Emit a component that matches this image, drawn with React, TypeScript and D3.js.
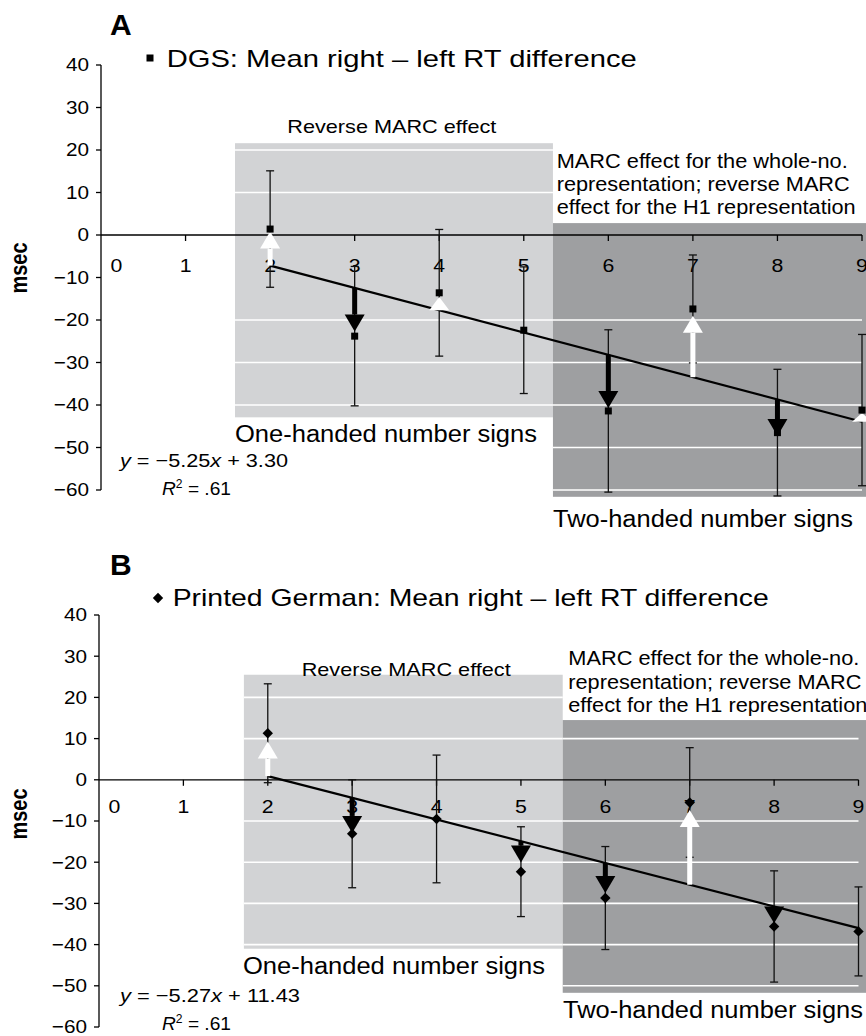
import React from 'react';
import * as d3 from 'd3';

// category positions (number of sign / digit)
const numbers = [2, 3, 4, 5, 6, 7, 8, 9];
const xTickValues = [0, 1, 2, 3, 4, 5, 6, 7, 8, 9];
const yTickValues = [40, 30, 20, 10, 0, -10, -20, -30, -40, -50, -60];

// panel A: DGS
const dgsMean = [1.4, -23.8, -13.6, -22.4, -41.4, -17.4, -46.5, -41.2];
const dgsError = [13.7, 16.4, 14.9, 14.9, 19.1, 12.7, 14.9, 17.8];
const dgsArrowTip = [0.8, -22.7, -14.6, null, -40.7, -19.0, -47.3, -41.9];
const dgsFit = { slope: -5.25, intercept: 3.3 };
const dgsGridLight = [20, 10, -20, -30, -40];
const dgsGridDark = [-20, -30, -40, -50, -60];

// panel B: printed German
const germanMean = [11.3, -13.1, -9.5, -22.3, -28.7, -5.5, -35.6, -36.8];
const germanError = [12.0, 13.1, 15.5, 10.9, 12.5, 13.3, 13.5, 10.8];
const germanArrowTip = [9.3, -12.9, null, -20.1, -27.5, -7.3, -34.8, null];
const germanFit = { slope: -5.27, intercept: 11.43 };
const germanGridLight = [20, 10, -10, -20, -30, -40];
const germanGridDark = [10, -10, -20, -30, -40, -50];

const FONT = '"Liberation Sans", Arial, Helvetica, sans-serif';
const LIGHT = '#d2d3d5';
const DARK = '#9e9fa1';

const panels = [
  {
    letter: 'A', letterY: 35,
    marker: 'square', legend: 'DGS: Mean right \u2013 left RT difference',
    legendX: 166.7, legendY: 67, legendLen: 470, markerX: 150, markerY: 58,
    mean: dgsMean, error: dgsError, arrowTip: dgsArrowTip, fit: dgsFit,
    gridLight: dgsGridLight, gridDark: dgsGridDark,
    xRange: [101, 862], yRange: [490, 65], labelOffset: 36.7,
    light: { x0: 1.585, x1: 5.345, y0: 21.6, y1: -42.9 },
    dark: { x0: 5.345, y0: 2.8, y1: -61.6 },
    reverseX: 287.3, reverseY: 133,
    marcX: 556.7, marcY: [168, 191, 214],
    oneX: 235, oneY: 442, twoX: 553, twoY: 527,
    eq: ['\u22125.25', ' + 3.30'], eqY: 467, eqLen: 168, r2Y: 495, msecY: 268,
  },
  {
    letter: 'B', letterY: 575,
    marker: 'diamond', legend: 'Printed German: Mean right \u2013 left RT difference',
    legendX: 172.7, legendY: 606, legendLen: 596, markerX: 158, markerY: 598,
    mean: germanMean, error: germanError, arrowTip: germanArrowTip, fit: germanFit,
    gridLight: germanGridLight, gridDark: germanGridDark,
    xRange: [99, 858.5], yRange: [1027, 615], labelOffset: 33.5,
    light: { x0: 1.717, x1: 5.495, y0: 25.5, y1: -41.0 },
    dark: { x0: 5.495, y0: 14.5, y1: -51.7 },
    reverseX: 301.7, reverseY: 676,
    marcX: 568.3, marcY: [665, 689, 712],
    oneX: 243, oneY: 974, twoX: 563, twoY: 1018,
    eq: ['\u22125.27', ' + 11.43'], eqY: 1002, eqLen: 180, r2Y: 1030, msecY: 814,
  },
];

function Marker({ type, cx, cy }) {
  if (type === 'square') {
    return <rect x={cx - 3.5} y={cy - 3.5} width={7} height={7} fill="#000" />;
  }
  const r = 5.2;
  return <polygon points={`${cx},${cy - r} ${cx + r},${cy} ${cx},${cy + r} ${cx - r},${cy}`} fill="#000" />;
}

function Arrow({ cx, from, to }) {
  const dir = to < from ? -1 : 1; // pixel direction of travel
  const headLen = 17;
  const headW = 20;
  const color = dir < 0 ? '#fff' : '#000';
  let base = to - dir * headLen;
  if ((base - from) * dir < 0) base = from;
  const shaftTop = Math.min(from, base);
  const shaftH = Math.abs(base - from);
  return (
    <g>
      {shaftH > 0 && <rect x={cx - 2.5} y={shaftTop} width={5} height={shaftH} fill={color} />}
      <polygon points={`${cx - headW / 2},${base} ${cx + headW / 2},${base} ${cx},${to}`} fill={color} />
    </g>
  );
}

function Panel({ p }) {
  const x = d3.scaleLinear().domain([0, 9]).range(p.xRange);
  const y = d3.scaleLinear().domain([-60, 40]).range(p.yRange);
  const fitLine = d3.line().x((d) => x(d)).y((d) => y(p.fit.slope * d + p.fit.intercept));
  const axisX = x(0);
  const axisY = y(0);

  return (
    <g fontFamily={FONT}>
      {/* shaded regions */}
      <rect x={x(p.light.x0)} y={y(p.light.y0)} width={x(p.light.x1) - x(p.light.x0)}
        height={y(p.light.y1) - y(p.light.y0)} fill={LIGHT} />
      <rect x={x(p.dark.x0)} y={y(p.dark.y0)} width={866 - x(p.dark.x0)}
        height={y(p.dark.y1) - y(p.dark.y0)} fill={DARK} />
      {p.gridLight.map((v) => (
        <line key={'l' + v} x1={x(p.light.x0)} x2={x(p.light.x1)} y1={y(v)} y2={y(v)} stroke="#fff" strokeWidth={1.6} />
      ))}
      {p.gridDark.map((v) => (
        <line key={'d' + v} x1={x(p.dark.x0)} x2={x(9)} y1={y(v)} y2={y(v)} stroke="#fff" strokeWidth={1.6} />
      ))}

      {/* axes */}
      <line x1={axisX} x2={axisX} y1={y(40)} y2={y(-60)} stroke="#000" strokeWidth={1.3} />
      <line x1={axisX} x2={x(9)} y1={axisY} y2={axisY} stroke="#000" strokeWidth={1.3} />
      {yTickValues.map((v) => (
        <g key={'yt' + v}>
          <line x1={axisX - 5} x2={axisX} y1={y(v)} y2={y(v)} stroke="#000" strokeWidth={1.3} />
          <text transform={`translate(${axisX - 12},${y(v) + 6.3}) scale(1.12,1)`} textAnchor="end" fontSize={18.5}>
            {v < 0 ? '\u2212' + Math.abs(v) : v}
          </text>
        </g>
      ))}
      {xTickValues.map((v) => (
        <g key={'xt' + v}>
          {v > 0 && <line x1={x(v)} x2={x(v)} y1={axisY} y2={axisY + 6} stroke="#000" strokeWidth={1.3} />}
          <text transform={`translate(${x(v) + (v === 0 ? 15.5 : 0)},${axisY + p.labelOffset}) scale(1.12,1)`}
            textAnchor="middle" fontSize={19}>{v}</text>
        </g>
      ))}

      {/* error bars */}
      {numbers.map((n, i) => (
        <g key={'e' + n} stroke="#111" strokeWidth={1.3}>
          <line x1={x(n)} x2={x(n)} y1={y(p.mean[i] + p.error[i])} y2={y(p.mean[i] - p.error[i])} />
          <line x1={x(n) - 4} x2={x(n) + 4} y1={y(p.mean[i] + p.error[i])} y2={y(p.mean[i] + p.error[i])} />
          <line x1={x(n) - 4} x2={x(n) + 4} y1={y(p.mean[i] - p.error[i])} y2={y(p.mean[i] - p.error[i])} />
        </g>
      ))}

      {/* regression line */}
      <path d={fitLine([2, 9])} fill="none" stroke="#000" strokeWidth={2.2} />

      {/* arrows from fitted value toward the observed shift */}
      {numbers.map((n, i) => p.arrowTip[i] == null ? null : (
        <Arrow key={'a' + n} cx={x(n)} from={y(p.fit.slope * n + p.fit.intercept)} to={y(p.arrowTip[i])} />
      ))}

      {numbers.map((n, i) => (
        <Marker key={'m' + n} type={p.marker} cx={x(n)} cy={y(p.mean[i])} />
      ))}

      {/* labels */}
      <text x={110} y={p.letterY} fontSize={30} fontWeight="bold">{p.letter}</text>
      <Marker type={p.marker} cx={p.markerX} cy={p.markerY} />
      <text x={p.legendX} y={p.legendY} fontSize={24} textLength={p.legendLen} lengthAdjust="spacingAndGlyphs">{p.legend}</text>
      <text x={p.reverseX} y={p.reverseY} fontSize={19} textLength={209} lengthAdjust="spacingAndGlyphs">Reverse MARC effect</text>
      {['MARC effect for the whole-no.', 'representation; reverse MARC', 'effect for the H1 representation'].map((t, i) => (
        <text key={t} x={p.marcX} y={p.marcY[i]} fontSize={20} textLength={[291, 293, 299][i]} lengthAdjust="spacingAndGlyphs">{t}</text>
      ))}
      <text x={p.oneX} y={p.oneY} fontSize={23} textLength={302} lengthAdjust="spacingAndGlyphs">One-handed number signs</text>
      <text x={p.twoX} y={p.twoY} fontSize={23} textLength={300} lengthAdjust="spacingAndGlyphs">Two-handed number signs</text>
      <text x={120} y={p.eqY} fontSize={19} textLength={p.eqLen} lengthAdjust="spacingAndGlyphs">
        <tspan fontStyle="italic">y</tspan> = {p.eq[0]}<tspan fontStyle="italic">x</tspan>{p.eq[1]}
      </text>
      <text x={162} y={p.r2Y} fontSize={19} textLength={69} lengthAdjust="spacingAndGlyphs">
        <tspan fontStyle="italic">R</tspan><tspan fontSize={12} dy={-7}>2</tspan><tspan dy={7}> = .61</tspan>
      </text>
      <text transform={`translate(27,${p.msecY}) rotate(-90) scale(1,1.2)`} textAnchor="middle" fontSize={20} fontWeight="bold">msec</text>
    </g>
  );
}

export default function App() {
  return (
    <svg width={866} height={1036} style={{ position: 'absolute', left: 0, top: 0, background: '#fff' }}>
      <rect width={866} height={1036} fill="#fff" />
      {panels.map((p) => <Panel key={p.letter} p={p} />)}
    </svg>
  );
}
